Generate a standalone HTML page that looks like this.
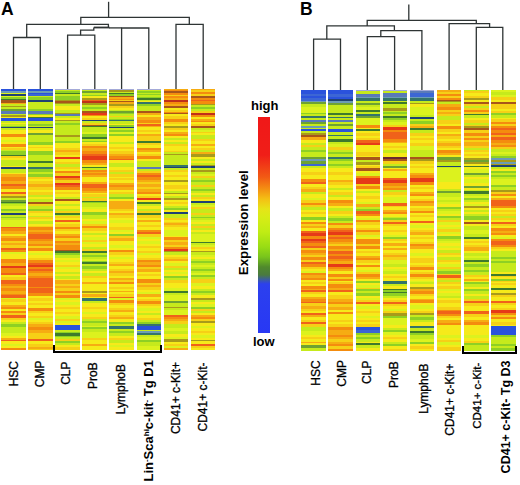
<!DOCTYPE html>
<html><head><meta charset="utf-8"><style>
html,body{margin:0;padding:0;background:#fff;width:520px;height:485px;overflow:hidden}
body{position:relative;font-family:"Liberation Sans",sans-serif;color:#000}
.hc{position:absolute;filter:blur(0.4px)}
svg{position:absolute;left:0;top:0}
.pl{position:absolute;font-weight:bold;font-size:17.5px;line-height:1}
.cb{position:absolute;left:257.8px;top:117.1px;width:12px;height:216.4px;background:linear-gradient(to bottom,#f01818 0px,#f01e18 38px,#f25a14 60px,#f49012 72px,#f4c014 82px,#e6e418 92px,#d8ec16 100px,#c0ec14 115px,#98dc14 130px,#78c41c 140px,#508a2c 150px,#4a7a40 158px,#3a5aa8 163px,#2c40ee 167px,#2838f4 216.4px)}
.ct{position:absolute;font-weight:bold;font-size:13px;line-height:1;white-space:nowrap}
.tn{font-family:"Liberation Sans",sans-serif;font-weight:normal;font-size:12px;fill:#000;stroke:#000;stroke-width:0.3px}
.tb{font-family:"Liberation Sans",sans-serif;font-weight:bold;font-size:12.5px;fill:#000}
.sp{font-size:8px}
.tb13{font-size:13px}
.tn115{font-size:11.5px}
.br{position:absolute;border:2.6px solid #000;border-top:none}
</style></head><body>
<div class="pl" style="left:1px;top:1px">A</div>
<div class="pl" style="left:300px;top:1px">B</div>
<svg width="520" height="485"><g stroke="#2e3434" stroke-width="1.3" fill="none" stroke-linecap="butt" stroke-linejoin="miter"><path d="M108.6 1.8V17.4"/><path d="M80.8 24.4V17.4H189.3V24.4"/><path d="M26.7 37.5V24.4H108.4V27.4"/><path d="M13.5 89V37.5H40.3V89"/><path d="M176 89V24.4H203.2V89"/><path d="M67.6 89V35.2H94.8V89"/><path d="M80.6 35.2V30.2H93.8V27.4"/><path d="M121.6 89V28H148.8V89"/><path d="M109 27.9H121.6"/><path d="M408.8 4.6V20.4"/><path d="M367.2 25.9V20.4H476.3V23.6"/><path d="M326.8 39.2V25.9H394.4V30.7"/><path d="M313.6 91V39.2H340.5V91"/><path d="M380.8 36.6V30.7H421.9V91"/><path d="M367.3 91V36.6H394.6V91"/><path d="M449.1 91V23.6H489.6V27.3"/><path d="M476.3 91V27.3H502.8V91"/><path d="M93.8 27.5H109.5" stroke-width="1.8"/></g></svg>
<div class="hc" style="left:1.1px;top:88.5px;width:24.7px;height:261.9px;background:linear-gradient(to bottom,#2a52dc 0.3px 2.5px,#6c9cb4 2.5px 4.2px,#dcf21e 4.2px 5.2px,#1f4272 5.2px 6.8px,#dcf21e 6.8px 7.8px,#8ed024 7.8px 9.9px,#3f7a2c 9.9px 11.4px,#a8561a 11.4px 13.5px,#f6ac12 13.5px 15.1px,#c6ea1c 15.1px 16.6px,#a89a1a 16.6px 18.2px,#c6ea1c 18.2px 20.3px,#6ea232 20.3px 21.8px,#5a7ab8 21.8px 24.9px,#c6ea1c 24.9px 26.5px,#a89a1a 26.5px 28.1px,#f6ea1a 28.1px 29.1px,#2a52dc 29.1px 32.2px,#c6ea1c 32.2px 33.8px,#f6ea1a 33.8px 35.3px,#c6ea1c 35.3px 36.9px,#8ed024 36.9px 37.9px,#1f4272 37.9px 39.5px,#c6ea1c 39.5px 41.0px,#f6ea1a 41.0px 44.7px,#f48c0e 44.7px 47.8px,#f6ea1a 47.8px 50.9px,#dcf21e 50.9px 53.2px,#f6ea1a 53.2px 54.8px,#f48c0e 54.8px 57.5px,#f6ea1a 57.5px 59.5px,#f6d016 59.5px 61.0px,#c6ea1c 61.0px 62.5px,#8ed024 62.5px 63.5px,#8ed024 63.5px 65.8px,#3f7a2c 65.8px 66.9px,#f6d016 66.9px 69.0px,#f6ea1a 69.0px 71.3px,#c6ea1c 71.3px 76.7px,#f6ea1a 76.7px 78.3px,#1f4272 78.3px 79.9px,#c6ea1c 79.9px 83.7px,#f6ea1a 83.7px 85.3px,#f6ac12 85.3px 87.6px,#f48c0e 87.6px 92.3px,#f6ac12 92.3px 94.7px,#f0621a 94.7px 97.0px,#f48c0e 97.0px 100.1px,#f6ea1a 100.1px 103.2px,#f0621a 103.2px 105.2px,#f6d016 105.2px 107.1px,#a89a1a 107.1px 109.0px,#c6ea1c 109.0px 111.0px,#6ea232 111.0px 112.5px,#3f7a2c 112.5px 113.9px,#8ed024 113.9px 114.9px,#c6ea1c 114.9px 117.2px,#dcf21e 117.2px 119.6px,#8ed024 119.6px 121.9px,#c6ea1c 121.9px 123.9px,#1f4272 123.9px 125.8px,#c6ea1c 125.8px 127.5px,#8ed024 127.5px 129.1px,#c6ea1c 129.1px 131.4px,#dcf21e 131.4px 137.6px,#f0621a 137.6px 138.7px,#f48c0e 138.7px 142.3px,#f6ac12 142.3px 144.6px,#f6ea1a 144.6px 147.0px,#f6ac12 147.0px 149.3px,#f48c0e 149.3px 151.6px,#f6d016 151.6px 154.0px,#f6ac12 154.0px 156.3px,#f6d016 156.3px 158.7px,#f0621a 158.7px 161.0px,#f48c0e 161.0px 163.0px,#dcf21e 163.0px 164.9px,#f6ea1a 164.9px 169.6px,#f48c0e 169.6px 174.2px,#f6ac12 174.2px 176.6px,#e63a18 176.6px 178.9px,#f48c0e 178.9px 183.6px,#f0621a 183.6px 185.9px,#f6ea1a 185.9px 188.2px,#f6d016 188.2px 190.6px,#f0621a 190.6px 191.5px,#f0621a 191.5px 194.6px,#f48c0e 194.6px 197.0px,#f6ac12 197.0px 199.3px,#f48c0e 199.3px 201.6px,#f6ac12 201.6px 204.7px,#f48c0e 204.7px 206.3px,#f0621a 206.3px 208.6px,#dcf21e 208.6px 210.2px,#f6d016 210.2px 213.3px,#f6ea1a 213.3px 215.6px,#f6ac12 215.6px 218.0px,#f48c0e 218.0px 219.5px,#f6ea1a 219.5px 221.9px,#f48c0e 221.9px 224.2px,#f6d016 224.2px 225.8px,#f0621a 225.8px 228.9px,#f6d016 228.9px 231.2px,#f6ea1a 231.2px 232.8px,#c6ea1c 232.8px 235.1px,#8ed024 235.1px 238.2px,#c6ea1c 238.2px 244.5px,#dcf21e 244.5px 246.8px,#f6ea1a 246.8px 249.1px,#f6ac12 249.1px 250.7px,#f0621a 250.7px 252.2px,#f6ea1a 252.2px 254.6px,#dcf21e 254.6px 256.9px,#f6ea1a 256.9px 259.3px,#f48c0e 259.3px 261.9px)"></div>
<div class="hc" style="left:28.2px;top:88.5px;width:24.7px;height:261.9px;background:linear-gradient(to bottom,#2a52dc 0.3px 2.5px,#6c9cb4 2.5px 4.2px,#2a52dc 4.2px 5.2px,#3c66d4 5.2px 6.8px,#c6ea1c 6.8px 8.3px,#8ed024 8.3px 10.9px,#1f4272 10.9px 13.0px,#c6ea1c 13.0px 20.3px,#8ed024 20.3px 22.3px,#5a7ab8 22.3px 24.9px,#8ed024 24.9px 26.5px,#f6ea1a 26.5px 28.1px,#3f7a2c 28.1px 29.1px,#2a52dc 29.1px 32.2px,#c6ea1c 32.2px 35.3px,#8ed024 35.3px 36.9px,#c6ea1c 36.9px 37.9px,#1f4272 37.9px 39.5px,#c6ea1c 39.5px 41.0px,#f6ea1a 41.0px 44.1px,#6ea232 44.1px 45.7px,#c6ea1c 45.7px 53.2px,#8ed024 53.2px 55.5px,#f6ea1a 55.5px 57.9px,#f6d016 57.9px 59.5px,#f6ea1a 59.5px 61.8px,#8ed024 61.8px 63.5px,#8ed024 63.5px 65.8px,#c6ea1c 65.8px 72.1px,#3f7a2c 72.1px 73.6px,#c6ea1c 73.6px 77.5px,#34746a 77.5px 79.9px,#8ed024 79.9px 83.0px,#c6ea1c 83.0px 85.3px,#8ed024 85.3px 87.6px,#f6d016 87.6px 90.0px,#f6ea1a 90.0px 92.3px,#f6d016 92.3px 94.7px,#f6ac12 94.7px 97.8px,#f6d016 97.8px 100.9px,#f6ea1a 100.9px 103.2px,#f6d016 103.2px 105.5px,#c6ea1c 105.5px 107.9px,#f6ea1a 107.9px 110.2px,#c6ea1c 110.2px 112.5px,#a8561a 112.5px 114.9px,#f6d016 114.9px 117.2px,#c6ea1c 117.2px 119.6px,#8ed024 119.6px 121.9px,#f6d016 121.9px 124.2px,#f6ea1a 124.2px 126.5px,#c6ea1c 126.5px 127.5px,#f6d016 127.5px 129.8px,#f6ea1a 129.8px 132.2px,#c6ea1c 132.2px 134.5px,#f6ea1a 134.5px 136.8px,#f6d016 136.8px 138.4px,#f48c0e 138.4px 140.7px,#f6ac12 140.7px 143.1px,#f48c0e 143.1px 145.4px,#f0621a 145.4px 150.1px,#f48c0e 150.1px 152.4px,#f6ac12 152.4px 154.8px,#f48c0e 154.8px 157.1px,#f6d016 157.1px 159.4px,#f48c0e 159.4px 161.8px,#f6ea1a 161.8px 164.1px,#dcf21e 164.1px 166.4px,#f6ea1a 166.4px 168.8px,#f6d016 168.8px 171.1px,#f48c0e 171.1px 173.5px,#f0621a 173.5px 175.8px,#e63a18 175.8px 177.7px,#f48c0e 177.7px 179.7px,#f0621a 179.7px 182.0px,#f48c0e 182.0px 184.4px,#f6ac12 184.4px 186.7px,#f48c0e 186.7px 189.0px,#f0621a 189.0px 191.4px,#f0621a 191.4px 191.5px,#f0621a 191.5px 197.5px,#f48c0e 197.5px 199.0px,#f0621a 199.0px 204.0px,#f48c0e 204.0px 207.1px,#f6ea1a 207.1px 209.4px,#f6d016 209.4px 211.7px,#f6ea1a 211.7px 214.1px,#f6d016 214.1px 216.4px,#f6ea1a 216.4px 218.8px,#f48c0e 218.8px 221.9px,#f6d016 221.9px 224.2px,#f6ea1a 224.2px 226.5px,#f6d016 226.5px 228.9px,#dcf21e 228.9px 231.2px,#f6ea1a 231.2px 232.8px,#f6d016 232.8px 235.1px,#f6ac12 235.1px 238.2px,#f48c0e 238.2px 241.3px,#f6ac12 241.3px 244.5px,#f6d016 244.5px 249.9px,#f0621a 249.9px 251.5px,#f6ea1a 251.5px 255.4px,#f6d016 255.4px 257.7px,#f6ac12 257.7px 260.0px,#f6d016 260.0px 261.9px)"></div>
<div class="hc" style="left:55.3px;top:88.5px;width:24.7px;height:261.9px;background:linear-gradient(to bottom,#a4aad8 0.0px 1.4px,#c6ea1c 1.4px 2.3px,#8ed024 2.3px 3.9px,#3f7a2c 3.9px 5.0px,#c6ea1c 5.0px 7.0px,#8ed024 7.0px 10.7px,#a89a1a 10.7px 12.3px,#a8561a 12.3px 13.8px,#a89a1a 13.8px 15.1px,#c6ea1c 15.1px 17.4px,#f6ea1a 17.4px 21.3px,#c6ea1c 21.3px 23.6px,#a89a1a 23.6px 25.2px,#5a7ab8 25.2px 26.8px,#c6ea1c 26.8px 29.1px,#f6ea1a 29.1px 30.7px,#a89a1a 30.7px 32.5px,#c6ea1c 32.5px 34.1px,#8ed024 34.1px 35.6px,#c6ea1c 35.6px 46.2px,#a89a1a 46.2px 48.1px,#c6ea1c 48.1px 52.5px,#8ed024 52.5px 54.0px,#f6ea1a 54.0px 58.7px,#f6d016 58.7px 61.0px,#f6ac12 61.0px 63.4px,#f6d016 63.4px 63.5px,#f6d016 63.5px 65.8px,#f6ea1a 65.8px 68.2px,#e63a18 68.2px 70.5px,#f6ea1a 70.5px 72.8px,#f6d016 72.8px 75.2px,#c6ea1c 75.2px 77.5px,#f6d016 77.5px 79.9px,#f6ea1a 79.9px 82.2px,#f48c0e 82.2px 84.5px,#f6d016 84.5px 86.9px,#e63a18 86.9px 89.2px,#f48c0e 89.2px 91.5px,#f6d016 91.5px 93.9px,#e63a18 93.9px 96.2px,#f0621a 96.2px 98.5px,#f48c0e 98.5px 100.9px,#f6ea1a 100.9px 103.2px,#f6d016 103.2px 105.5px,#f6ea1a 105.5px 107.9px,#c6ea1c 107.9px 110.2px,#a8561a 110.2px 112.5px,#f6ea1a 112.5px 114.9px,#c6ea1c 114.9px 117.2px,#f6ea1a 117.2px 119.6px,#c6ea1c 119.6px 121.9px,#f6d016 121.9px 124.2px,#3f7a2c 124.2px 126.5px,#c6ea1c 126.5px 127.5px,#f6d016 127.5px 129.1px,#f6ea1a 129.1px 131.4px,#f0621a 131.4px 133.0px,#f6ea1a 133.0px 135.3px,#f6d016 135.3px 137.6px,#f48c0e 137.6px 140.0px,#f6d016 140.0px 142.3px,#f6ea1a 142.3px 144.6px,#f6ac12 144.6px 147.0px,#f48c0e 147.0px 149.3px,#f6d016 149.3px 151.6px,#f48c0e 151.6px 154.0px,#f6ac12 154.0px 156.3px,#f48c0e 156.3px 161.0px,#a8561a 161.0px 162.5px,#3f7a2c 162.5px 164.1px,#8ed024 164.1px 166.4px,#c6ea1c 166.4px 168.8px,#f6ea1a 168.8px 171.1px,#dcf21e 171.1px 173.4px,#f6ea1a 173.4px 175.8px,#f6d016 175.8px 178.1px,#dcf21e 178.1px 180.5px,#f6ea1a 180.5px 182.8px,#c6ea1c 182.8px 185.1px,#f6ea1a 185.1px 187.5px,#c6ea1c 187.5px 189.8px,#f6ea1a 189.8px 191.5px,#f6ac12 191.5px 194.6px,#f6d016 194.6px 197.0px,#f6ac12 197.0px 199.3px,#f6d016 199.3px 201.6px,#f48c0e 201.6px 204.0px,#f6d016 204.0px 206.3px,#f48c0e 206.3px 208.6px,#dcf21e 208.6px 211.0px,#f6ea1a 211.0px 213.3px,#dcf21e 213.3px 215.6px,#f6ea1a 215.6px 218.0px,#f6d016 218.0px 220.3px,#f6ea1a 220.3px 222.7px,#f6d016 222.7px 225.0px,#f6ea1a 225.0px 227.3px,#dcf21e 227.3px 229.7px,#f6d016 229.7px 232.0px,#dcf21e 232.0px 233.6px,#f6ea1a 233.6px 235.9px,#2a52dc 235.9px 241.0px,#c6ea1c 241.0px 242.9px,#8ed024 242.9px 244.5px,#3f7a2c 244.5px 246.8px,#8ed024 246.8px 248.4px,#c6ea1c 248.4px 249.9px,#f6d016 249.9px 252.2px,#8ed024 252.2px 253.8px,#c6ea1c 253.8px 256.1px,#f6ea1a 256.1px 258.5px,#f6d016 258.5px 261.9px)"></div>
<div class="hc" style="left:82.3px;top:88.5px;width:24.7px;height:261.9px;background:linear-gradient(to bottom,#a4aad8 0.0px 1.4px,#c6ea1c 1.4px 2.3px,#6ea232 2.3px 3.9px,#c6ea1c 3.9px 5.7px,#8ed024 5.7px 7.3px,#f6ea1a 7.3px 9.2px,#a89a1a 9.2px 10.7px,#f0621a 10.7px 12.0px,#c0301a 12.0px 14.3px,#a89a1a 14.3px 15.9px,#c6ea1c 15.9px 17.9px,#8ed024 17.9px 20.1px,#c6ea1c 20.1px 22.1px,#a8561a 22.1px 23.6px,#e63a18 23.6px 25.7px,#f48c0e 25.7px 27.2px,#f6ea1a 27.2px 29.1px,#f6d016 29.1px 30.7px,#1f4272 30.7px 32.2px,#c6ea1c 32.2px 34.1px,#f6d016 34.1px 35.6px,#a8561a 35.6px 36.9px,#3f7a2c 36.9px 38.5px,#c6ea1c 38.5px 43.1px,#dcf21e 43.1px 45.5px,#8ed024 45.5px 47.8px,#3f7a2c 47.8px 49.7px,#c6ea1c 49.7px 51.7px,#8ed024 51.7px 53.2px,#f6ea1a 53.2px 55.5px,#f6d016 55.5px 57.5px,#f48c0e 57.5px 59.5px,#f6ac12 59.5px 61.8px,#f48c0e 61.8px 63.5px,#f48c0e 63.5px 65.1px,#f0621a 65.1px 67.4px,#e63a18 67.4px 71.3px,#f48c0e 71.3px 73.6px,#f6ac12 73.6px 76.0px,#f6ea1a 76.0px 77.5px,#3f7a2c 77.5px 79.1px,#c6ea1c 79.1px 80.6px,#f48c0e 80.6px 83.0px,#f6ac12 83.0px 84.5px,#f48c0e 84.5px 86.1px,#f6ac12 86.1px 88.4px,#f6ea1a 88.4px 93.1px,#f6ac12 93.1px 94.7px,#f0621a 94.7px 99.3px,#f48c0e 99.3px 101.7px,#f6ac12 101.7px 104.0px,#f6ea1a 104.0px 105.5px,#f6d016 105.5px 107.9px,#c6ea1c 107.9px 109.5px,#f6d016 109.5px 111.8px,#3f7a2c 111.8px 113.3px,#8ed024 113.3px 114.5px,#c6ea1c 114.5px 118.0px,#dcf21e 118.0px 120.4px,#f6ea1a 120.4px 122.7px,#8ed024 122.7px 125.8px,#c6ea1c 125.8px 127.4px,#f6d016 127.4px 127.5px,#c6ea1c 127.5px 129.8px,#f6ea1a 129.8px 132.2px,#dcf21e 132.2px 135.3px,#f6d016 135.3px 136.8px,#f48c0e 136.8px 139.2px,#f6d016 139.2px 141.5px,#f6ea1a 141.5px 143.9px,#c6ea1c 143.9px 146.2px,#f6ea1a 146.2px 148.5px,#dcf21e 148.5px 150.9px,#f6d016 150.9px 153.2px,#dcf21e 153.2px 155.5px,#f6ea1a 155.5px 157.9px,#c6ea1c 157.9px 160.2px,#f6d016 160.2px 161.8px,#3f7a2c 161.8px 163.6px,#c6ea1c 163.6px 165.7px,#8ed024 165.7px 168.0px,#c6ea1c 168.0px 170.3px,#dcf21e 170.3px 171.9px,#8ed024 171.9px 173.4px,#3f7a2c 173.4px 175.0px,#c6ea1c 175.0px 177.3px,#8ed024 177.3px 179.7px,#c6ea1c 179.7px 182.0px,#f6ea1a 182.0px 184.4px,#c6ea1c 184.4px 186.7px,#f6d016 186.7px 189.0px,#f6ea1a 189.0px 191.4px,#f6d016 191.4px 191.5px,#f6ea1a 191.5px 192.7px,#f6ac12 192.7px 194.9px,#f6ea1a 194.9px 201.6px,#a89a1a 201.6px 204.0px,#f6ea1a 204.0px 205.5px,#f6ac12 205.5px 207.9px,#f6ea1a 207.9px 209.4px,#34746a 209.4px 211.7px,#c6ea1c 211.7px 214.1px,#f6ea1a 214.1px 218.0px,#f6d016 218.0px 220.3px,#f6ea1a 220.3px 222.7px,#dcf21e 222.7px 225.0px,#f6ea1a 225.0px 228.1px,#f6d016 228.1px 230.4px,#c6ea1c 230.4px 232.0px,#8ed024 232.0px 234.3px,#c6ea1c 234.3px 236.7px,#dcf21e 236.7px 238.2px,#8ed024 238.2px 239.8px,#c6ea1c 239.8px 242.9px,#dcf21e 242.9px 249.1px,#f6d016 249.1px 251.5px,#f6ea1a 251.5px 254.6px,#f6ac12 254.6px 256.9px,#f6ea1a 256.9px 261.9px)"></div>
<div class="hc" style="left:109.4px;top:88.5px;width:24.7px;height:261.9px;background:linear-gradient(to bottom,#a4aad8 0.0px 1.0px,#dcf21e 1.0px 1.5px,#a89a1a 1.5px 3.1px,#c6ea1c 3.1px 4.2px,#3f7a2c 4.2px 5.2px,#8ed024 5.2px 6.8px,#a8561a 6.8px 8.3px,#f6ac12 8.3px 9.9px,#f48c0e 9.9px 10.9px,#f6d016 10.9px 12.0px,#a8561a 12.0px 13.5px,#f6ac12 13.5px 15.1px,#a89a1a 15.1px 17.2px,#f6d016 17.2px 18.7px,#f6ea1a 18.7px 20.8px,#c6ea1c 20.8px 22.3px,#6ea232 22.3px 23.9px,#8ed024 23.9px 25.5px,#c6ea1c 25.5px 27.0px,#f6d016 27.0px 28.5px,#c6ea1c 28.5px 30.1px,#8ed024 30.1px 31.2px,#34746a 31.2px 32.5px,#c6ea1c 32.5px 34.8px,#f6ea1a 34.8px 36.4px,#8ed024 36.4px 37.9px,#1f4272 37.9px 39.5px,#c6ea1c 39.5px 41.0px,#8ed024 41.0px 43.1px,#dcf21e 43.1px 45.2px,#8ed024 45.2px 47.3px,#f6ea1a 47.3px 53.2px,#c6ea1c 53.2px 55.5px,#f6ea1a 55.5px 57.9px,#f6d016 57.9px 60.2px,#f6ea1a 60.2px 62.5px,#f6d016 62.5px 63.5px,#f6d016 63.5px 65.4px,#f6ac12 65.4px 67.4px,#f48c0e 67.4px 69.7px,#f0621a 69.7px 71.3px,#f6ea1a 71.3px 73.6px,#c6ea1c 73.6px 78.3px,#f6ea1a 78.3px 80.6px,#f6d016 80.6px 83.0px,#c6ea1c 83.0px 85.3px,#f6d016 85.3px 87.6px,#f6ea1a 87.6px 89.2px,#f6d016 89.2px 91.5px,#f6ea1a 91.5px 93.9px,#f6ac12 93.9px 96.2px,#f48c0e 96.2px 98.5px,#f6ac12 98.5px 100.9px,#f6ea1a 100.9px 103.2px,#f6d016 103.2px 105.5px,#c6ea1c 105.5px 107.9px,#8ed024 107.9px 110.2px,#f6ea1a 110.2px 112.5px,#f6ac12 112.5px 119.6px,#f6d016 119.6px 121.9px,#f6ea1a 121.9px 124.2px,#f6ac12 124.2px 126.5px,#f6d016 126.5px 127.5px,#f6d016 127.5px 129.1px,#f6ea1a 129.1px 131.4px,#dcf21e 131.4px 133.7px,#f6ea1a 133.7px 138.4px,#f6d016 138.4px 140.7px,#dcf21e 140.7px 143.1px,#f6ea1a 143.1px 145.4px,#8ed024 145.4px 147.0px,#f6d016 147.0px 149.3px,#f6ac12 149.3px 151.6px,#f6ea1a 151.6px 156.3px,#dcf21e 156.3px 158.7px,#f6ea1a 158.7px 161.0px,#f48c0e 161.0px 163.3px,#f6d016 163.3px 165.7px,#f6ea1a 165.7px 168.0px,#dcf21e 168.0px 170.3px,#f6ea1a 170.3px 172.7px,#f6d016 172.7px 175.0px,#f6ac12 175.0px 177.3px,#f6ea1a 177.3px 179.7px,#f6d016 179.7px 182.0px,#f6ac12 182.0px 184.4px,#f6d016 184.4px 186.7px,#f6ea1a 186.7px 189.0px,#f6ac12 189.0px 191.4px,#f6ea1a 191.4px 191.5px,#f6d016 191.5px 193.1px,#f48c0e 193.1px 194.6px,#f6ea1a 194.6px 197.7px,#f6d016 197.7px 200.1px,#f6ea1a 200.1px 201.6px,#f6ac12 201.6px 203.2px,#f6ea1a 203.2px 205.5px,#f6d016 205.5px 207.9px,#f0621a 207.9px 209.4px,#dcf21e 209.4px 211.0px,#f48c0e 211.0px 214.1px,#f6d016 214.1px 216.4px,#f6ea1a 216.4px 218.8px,#f6d016 218.8px 221.1px,#f6ac12 221.1px 223.4px,#f6ea1a 223.4px 225.8px,#f6d016 225.8px 228.1px,#f6ac12 228.1px 230.4px,#f6ea1a 230.4px 232.8px,#8ed024 232.8px 235.1px,#c6ea1c 235.1px 237.5px,#34746a 237.5px 239.8px,#c6ea1c 239.8px 242.1px,#8ed024 242.1px 244.5px,#c6ea1c 244.5px 246.8px,#f6ea1a 246.8px 249.1px,#f6d016 249.1px 251.5px,#c6ea1c 251.5px 253.8px,#f6ea1a 253.8px 256.1px,#dcf21e 256.1px 258.5px,#f6ea1a 258.5px 261.9px)"></div>
<div class="hc" style="left:136.5px;top:88.5px;width:24.7px;height:261.9px;background:linear-gradient(to bottom,#a4aad8 0.0px 1.4px,#c6ea1c 1.4px 2.1px,#8ed024 2.1px 3.7px,#c6ea1c 3.7px 5.2px,#8ed024 5.2px 6.2px,#c6ea1c 6.2px 7.8px,#8ed024 7.8px 9.4px,#3f7a2c 9.4px 10.9px,#c6ea1c 10.9px 12.5px,#f6ea1a 12.5px 13.5px,#34746a 13.5px 15.1px,#8ed024 15.1px 17.2px,#c6ea1c 17.2px 22.3px,#a8561a 22.3px 24.5px,#f6ac12 24.5px 26.5px,#f6ea1a 26.5px 28.5px,#f6ac12 28.5px 30.7px,#f48c0e 30.7px 33.8px,#f6d016 33.8px 35.3px,#f0621a 35.3px 36.9px,#f6ac12 36.9px 38.5px,#f6ea1a 38.5px 41.0px,#f6d016 41.0px 43.1px,#f6ea1a 43.1px 45.2px,#f6ac12 45.2px 47.3px,#f6d016 47.3px 50.1px,#f6d016 50.1px 52.5px,#3f7a2c 52.5px 54.0px,#f6d016 54.0px 56.4px,#f6ea1a 56.4px 58.7px,#f48c0e 58.7px 61.0px,#f6ac12 61.0px 63.4px,#f6d016 63.4px 63.5px,#f6ea1a 63.5px 65.1px,#f6d016 65.1px 67.4px,#f48c0e 67.4px 69.7px,#f6ea1a 69.7px 72.1px,#c6ea1c 72.1px 78.3px,#5a7ab8 78.3px 79.9px,#c6ea1c 79.9px 82.2px,#f6d016 82.2px 84.5px,#f48c0e 84.5px 86.1px,#f0621a 86.1px 88.1px,#f48c0e 88.1px 90.8px,#f6ac12 90.8px 93.1px,#f6d016 93.1px 95.4px,#f6ac12 95.4px 97.8px,#f6d016 97.8px 100.1px,#f6ac12 100.1px 103.2px,#f48c0e 103.2px 104.8px,#f6ea1a 104.8px 107.1px,#f6d016 107.1px 108.7px,#e63a18 108.7px 111.0px,#f6ea1a 111.0px 113.3px,#3f7a2c 113.3px 114.9px,#c6ea1c 114.9px 117.2px,#f6ea1a 117.2px 119.6px,#c6ea1c 119.6px 121.9px,#f6d016 121.9px 123.9px,#3f7a2c 123.9px 125.8px,#f6d016 125.8px 127.5px,#f6d016 127.5px 129.4px,#f6ea1a 129.4px 131.4px,#f6ac12 131.4px 133.4px,#f6ea1a 133.4px 136.1px,#f6d016 136.1px 138.4px,#f6ea1a 138.4px 140.7px,#f48c0e 140.7px 143.1px,#f0621a 143.1px 145.4px,#f6d016 145.4px 147.7px,#dcf21e 147.7px 150.1px,#f6ea1a 150.1px 152.4px,#dcf21e 152.4px 154.8px,#f6ea1a 154.8px 157.1px,#f6d016 157.1px 159.4px,#f6ea1a 159.4px 161.8px,#f6d016 161.8px 164.1px,#dcf21e 164.1px 166.4px,#f6ea1a 166.4px 168.8px,#f6d016 168.8px 171.1px,#f48c0e 171.1px 173.4px,#f6ac12 173.4px 175.8px,#f48c0e 175.8px 178.1px,#f6d016 178.1px 180.5px,#f6ac12 180.5px 182.8px,#f6ea1a 182.8px 185.1px,#f6d016 185.1px 187.5px,#f6ea1a 187.5px 189.8px,#f48c0e 189.8px 191.5px,#f48c0e 191.5px 193.8px,#f6d016 193.8px 196.2px,#f6ac12 196.2px 198.5px,#f6d016 198.5px 200.8px,#f6ea1a 200.8px 203.2px,#dcf21e 203.2px 205.5px,#f6ac12 205.5px 207.9px,#f6ea1a 207.9px 210.2px,#f6d016 210.2px 212.5px,#f48c0e 212.5px 214.9px,#f6d016 214.9px 217.2px,#f6ea1a 217.2px 219.5px,#dcf21e 219.5px 221.9px,#f6ea1a 221.9px 224.2px,#c6ea1c 224.2px 226.5px,#f6ea1a 226.5px 228.9px,#f6d016 228.9px 231.2px,#c6ea1c 231.2px 233.2px,#8ed024 233.2px 235.1px,#34746a 235.1px 236.7px,#2a52dc 236.7px 240.6px,#c6ea1c 240.6px 242.1px,#6c9cb4 242.1px 243.7px,#34746a 243.7px 246.0px,#c6ea1c 246.0px 248.4px,#dcf21e 248.4px 250.7px,#8ed024 250.7px 253.0px,#c6ea1c 253.0px 256.9px,#dcf21e 256.9px 261.9px)"></div>
<div class="hc" style="left:163.6px;top:88.5px;width:24.7px;height:261.9px;background:linear-gradient(to bottom,#f6ac12 0.3px 0.9px,#f48c0e 0.9px 2.2px,#a8561a 2.2px 3.9px,#f48c0e 3.9px 5.6px,#f6d016 5.6px 7.0px,#f48c0e 7.0px 9.0px,#f6ac12 9.0px 11.1px,#c0301a 11.1px 13.1px,#f48c0e 13.1px 15.1px,#f6ac12 15.1px 17.2px,#a8561a 17.2px 18.5px,#f6ea1a 18.5px 20.6px,#f6d016 20.6px 22.6px,#f48c0e 22.6px 24.0px,#a8561a 24.0px 25.4px,#f6ea1a 25.4px 27.4px,#f6d016 27.4px 29.5px,#f48c0e 29.5px 33.5px,#f6d016 33.5px 35.5px,#f6ea1a 35.5px 37.5px,#a89a1a 37.5px 39.2px,#f6d016 39.2px 41.0px,#f6ea1a 41.0px 43.0px,#f6ac12 43.0px 45.1px,#f48c0e 45.1px 47.1px,#f6ea1a 47.1px 49.2px,#c6ea1c 49.2px 51.2px,#f6ea1a 51.2px 53.2px,#c6ea1c 53.2px 55.2px,#f6d016 55.2px 57.3px,#f6ea1a 57.3px 62.1px,#f6d016 62.1px 63.5px,#c6ea1c 63.5px 64.9px,#a89a1a 64.9px 66.5px,#c6ea1c 66.5px 76.4px,#34746a 76.4px 77.5px,#1f4272 77.5px 79.1px,#c6ea1c 79.1px 81.2px,#f6d016 81.2px 83.2px,#f6ea1a 83.2px 85.9px,#f6d016 85.9px 88.0px,#f6ea1a 88.0px 91.4px,#a89a1a 91.4px 93.4px,#f6ea1a 93.4px 95.5px,#f6d016 95.5px 99.5px,#f6ea1a 99.5px 101.6px,#c6ea1c 101.6px 103.6px,#a89a1a 103.6px 105.0px,#f6ea1a 105.0px 107.0px,#c6ea1c 107.0px 109.1px,#a89a1a 109.1px 110.5px,#f6ea1a 110.5px 112.5px,#f6d016 112.5px 114.6px,#f6ea1a 114.6px 116.6px,#c6ea1c 116.6px 118.6px,#8ed024 118.6px 120.6px,#f6ea1a 120.6px 123.4px,#1f4272 123.4px 125.0px,#c6ea1c 125.0px 127.5px,#c6ea1c 127.5px 128.9px,#f6d016 128.9px 130.5px,#f6ea1a 130.5px 132.7px,#f6d016 132.7px 134.3px,#f6ac12 134.3px 136.3px,#f6d016 136.3px 138.4px,#f6ea1a 138.4px 141.1px,#dcf21e 141.1px 146.5px,#f6ea1a 146.5px 147.9px,#f48c0e 147.9px 151.3px,#f6d016 151.3px 153.4px,#f6ac12 153.4px 156.1px,#f6d016 156.1px 158.1px,#f48c0e 158.1px 159.5px,#e63a18 159.5px 161.5px,#a89a1a 161.5px 163.1px,#c6ea1c 163.1px 165.6px,#f6ea1a 165.6px 168.3px,#f6d016 168.3px 170.4px,#f6ac12 170.4px 172.4px,#f6ea1a 172.4px 174.4px,#dcf21e 174.4px 176.5px,#f6d016 176.5px 178.5px,#c6ea1c 178.5px 181.2px,#f6ea1a 181.2px 183.3px,#dcf21e 183.3px 185.3px,#f6ea1a 185.3px 187.0px,#8ed024 187.0px 188.7px,#c6ea1c 188.7px 190.8px,#f6d016 190.8px 191.5px,#f6d016 191.5px 193.7px,#f6ea1a 193.7px 198.9px,#dcf21e 198.9px 201.9px,#3f7a2c 201.9px 204.1px,#c6ea1c 204.1px 206.3px,#dcf21e 206.3px 212.3px,#6ea232 212.3px 213.8px,#c6ea1c 213.8px 217.5px,#a89a1a 217.5px 218.9px,#c6ea1c 218.9px 221.2px,#dcf21e 221.2px 225.6px,#f0621a 225.6px 227.9px,#f48c0e 227.9px 230.1px,#f6ac12 230.1px 232.3px,#f6d016 232.3px 234.5px,#c6ea1c 234.5px 239.0px,#dcf21e 239.0px 241.9px,#c6ea1c 241.9px 244.9px,#f6ea1a 244.9px 247.9px,#dcf21e 247.9px 250.1px,#a89a1a 250.1px 252.5px,#f6ea1a 252.5px 254.6px,#f6d016 254.6px 256.8px,#dcf21e 256.8px 259.0px,#f6ac12 259.0px 261.9px)"></div>
<div class="hc" style="left:190.7px;top:88.5px;width:24.7px;height:261.9px;background:linear-gradient(to bottom,#f6ac12 0.3px 0.9px,#f6d016 0.9px 2.9px,#f48c0e 2.9px 4.9px,#f6d016 4.9px 7.0px,#a8561a 7.0px 9.0px,#f48c0e 9.0px 10.7px,#f0621a 10.7px 12.4px,#f48c0e 12.4px 14.5px,#a89a1a 14.5px 15.8px,#c6ea1c 15.8px 17.9px,#8ed024 17.9px 19.9px,#c6ea1c 19.9px 21.9px,#f6d016 21.9px 23.7px,#c0301a 23.7px 26.0px,#f48c0e 26.0px 28.1px,#f6ea1a 28.1px 29.5px,#f6ac12 29.5px 31.5px,#f48c0e 31.5px 33.5px,#f6ea1a 33.5px 35.5px,#f6d016 35.5px 37.3px,#a8561a 37.3px 39.0px,#c6ea1c 39.0px 41.0px,#dcf21e 41.0px 42.8px,#f6d016 42.8px 44.4px,#f6ea1a 44.4px 46.4px,#c6ea1c 46.4px 50.5px,#f6d016 50.5px 52.5px,#f6ea1a 52.5px 54.6px,#f6ac12 54.6px 56.6px,#f6ea1a 56.6px 58.7px,#f6d016 58.7px 60.7px,#c6ea1c 60.7px 62.8px,#f6ea1a 62.8px 63.5px,#f6ac12 63.5px 65.5px,#a89a1a 65.5px 67.6px,#f6ea1a 67.6px 69.6px,#c6ea1c 69.6px 71.7px,#f6ea1a 71.7px 73.7px,#c6ea1c 73.7px 75.7px,#a89a1a 75.7px 77.1px,#1f4272 77.1px 79.1px,#c6ea1c 79.1px 81.2px,#a89a1a 81.2px 83.2px,#c6ea1c 83.2px 85.3px,#dcf21e 85.3px 87.3px,#f6d016 87.3px 89.4px,#c6ea1c 89.4px 91.4px,#8ed024 91.4px 93.4px,#c6ea1c 93.4px 95.5px,#f6d016 95.5px 97.5px,#c6ea1c 97.5px 99.5px,#8ed024 99.5px 101.6px,#c6ea1c 101.6px 103.6px,#f6ea1a 103.6px 105.7px,#c6ea1c 105.7px 107.7px,#f6d016 107.7px 109.8px,#f6ea1a 109.8px 111.8px,#1f4272 111.8px 113.8px,#c6ea1c 113.8px 115.9px,#dcf21e 115.9px 117.9px,#f6d016 117.9px 120.0px,#c6ea1c 120.0px 124.0px,#f6d016 124.0px 126.1px,#c6ea1c 126.1px 127.5px,#8ed024 127.5px 129.1px,#c6ea1c 129.1px 130.9px,#dcf21e 130.9px 132.9px,#f6ea1a 132.9px 135.0px,#c6ea1c 135.0px 137.0px,#f6d016 137.0px 139.1px,#c6ea1c 139.1px 141.1px,#f6ea1a 141.1px 143.1px,#c6ea1c 143.1px 145.2px,#dcf21e 145.2px 152.7px,#3f7a2c 152.7px 154.0px,#c6ea1c 154.0px 156.1px,#dcf21e 156.1px 158.1px,#f6d016 158.1px 160.2px,#f6ea1a 160.2px 161.5px,#a89a1a 161.5px 162.9px,#c6ea1c 162.9px 165.6px,#dcf21e 165.6px 167.6px,#f6ea1a 167.6px 169.7px,#c6ea1c 169.7px 171.7px,#8ed024 171.7px 173.8px,#c6ea1c 173.8px 175.8px,#dcf21e 175.8px 177.8px,#c6ea1c 177.8px 179.9px,#8ed024 179.9px 181.9px,#c6ea1c 181.9px 184.0px,#dcf21e 184.0px 186.0px,#8ed024 186.0px 188.0px,#c6ea1c 188.0px 190.1px,#f6d016 190.1px 191.5px,#f6d016 191.5px 193.7px,#dcf21e 193.7px 196.7px,#f6ea1a 196.7px 199.7px,#c6ea1c 199.7px 201.9px,#8ed024 201.9px 204.1px,#c6ea1c 204.1px 206.3px,#f6ea1a 206.3px 208.6px,#a89a1a 208.6px 210.5px,#c6ea1c 210.5px 213.0px,#f6ea1a 213.0px 215.2px,#dcf21e 215.2px 217.5px,#8ed024 217.5px 219.7px,#f6d016 219.7px 221.9px,#c6ea1c 221.9px 224.1px,#f6ea1a 224.1px 226.4px,#f6ac12 226.4px 227.9px,#f48c0e 227.9px 230.1px,#f6d016 230.1px 232.3px,#a89a1a 232.3px 233.5px,#f6ea1a 233.5px 236.8px,#dcf21e 236.8px 239.0px,#f6ea1a 239.0px 241.9px,#f6d016 241.9px 244.2px,#f6ea1a 244.2px 246.4px,#dcf21e 246.4px 248.6px,#f6ea1a 248.6px 250.8px,#a89a1a 250.8px 252.3px,#f6ea1a 252.3px 254.6px,#f0621a 254.6px 256.8px,#f6d016 256.8px 259.0px,#f6ea1a 259.0px 261.9px)"></div>
<div class="hc" style="left:301.2px;top:90.4px;width:24.6px;height:260.8px;background:linear-gradient(to bottom,#2a52dc 0.0px 3.5px,#3c66d4 3.5px 5.8px,#2a52dc 5.8px 8.2px,#3c66d4 8.2px 10.5px,#6c9cb4 10.5px 12.1px,#6ea232 12.1px 14.4px,#c6ea1c 14.4px 16.7px,#dcf21e 16.7px 23.0px,#8ed024 23.0px 24.5px,#c6ea1c 24.5px 26.1px,#34746a 26.1px 27.6px,#c6ea1c 27.6px 30.0px,#5a7ab8 30.0px 32.3px,#6ea232 32.3px 34.2px,#c6ea1c 34.2px 35.7px,#6c9cb4 35.7px 37.8px,#c6ea1c 37.8px 39.3px,#2a52dc 39.3px 41.3px,#c6ea1c 41.3px 43.2px,#a89a1a 43.2px 45.1px,#a8561a 45.1px 46.6px,#f6ac12 46.6px 50.2px,#f6ea1a 50.2px 52.6px,#c6ea1c 52.6px 54.9px,#f6d016 54.9px 57.2px,#c6ea1c 57.2px 59.6px,#8ed024 59.6px 61.9px,#c6ea1c 61.9px 63.6px,#c6ea1c 63.6px 66.7px,#6ea232 66.7px 69.1px,#6c9cb4 69.1px 71.4px,#6ea232 71.4px 74.2px,#3c66d4 74.2px 76.4px,#c6ea1c 76.4px 77.6px,#f6ea1a 77.6px 82.3px,#f6d016 82.3px 84.6px,#f6ea1a 84.6px 89.3px,#f48c0e 89.3px 91.6px,#f0621a 91.6px 94.0px,#f6ea1a 94.0px 97.1px,#f6d016 97.1px 99.4px,#f6ac12 99.4px 101.8px,#c6ea1c 101.8px 104.1px,#f6ea1a 104.1px 108.0px,#dcf21e 108.0px 110.3px,#f6d016 110.3px 112.7px,#f48c0e 112.7px 115.0px,#f6d016 115.0px 117.3px,#c6ea1c 117.3px 119.7px,#f6ea1a 119.7px 122.0px,#f6d016 122.0px 124.3px,#f6ea1a 124.3px 126.7px,#8ed024 126.7px 127.6px,#8ed024 127.6px 129.9px,#f6ea1a 129.9px 131.5px,#f48c0e 131.5px 133.8px,#f6d016 133.8px 136.2px,#f6ac12 136.2px 138.5px,#f6ea1a 138.5px 140.8px,#f0621a 140.8px 143.2px,#e63a18 143.2px 146.3px,#f48c0e 146.3px 148.6px,#e63a18 148.6px 151.1px,#f0621a 151.1px 153.3px,#f48c0e 153.3px 155.6px,#f0621a 155.6px 158.0px,#f6d016 158.0px 160.3px,#f48c0e 160.3px 162.6px,#f6ac12 162.6px 165.0px,#f6d016 165.0px 167.3px,#f48c0e 167.3px 169.7px,#f6d016 169.7px 172.0px,#f0621a 172.0px 174.3px,#f48c0e 174.3px 176.7px,#f6d016 176.7px 179.0px,#f6ea1a 179.0px 181.3px,#dcf21e 181.3px 182.9px,#f48c0e 182.9px 185.2px,#f6ac12 185.2px 187.6px,#f48c0e 187.6px 189.9px,#f6ea1a 189.9px 191.6px,#f6d016 191.6px 193.9px,#f6ea1a 193.9px 196.3px,#f48c0e 196.3px 198.6px,#f6ac12 198.6px 200.2px,#f0621a 200.2px 201.7px,#f6d016 201.7px 204.1px,#f6ea1a 204.1px 207.2px,#f6ac12 207.2px 209.5px,#f48c0e 209.5px 211.8px,#f0621a 211.8px 213.4px,#f6d016 213.4px 216.5px,#f6ac12 216.5px 218.9px,#f6d016 218.9px 221.2px,#f6ea1a 221.2px 223.5px,#f0621a 223.5px 225.1px,#f6ac12 225.1px 227.4px,#f6ea1a 227.4px 230.5px,#f6d016 230.5px 232.4px,#f0621a 232.4px 234.4px,#f6d016 234.4px 236.8px,#c6ea1c 236.8px 240.6px,#dcf21e 240.6px 244.6px,#f6ea1a 244.6px 246.9px,#f6d016 246.9px 249.2px,#f6ea1a 249.2px 251.6px,#f6ac12 251.6px 253.1px,#f6ea1a 253.1px 255.5px,#6ea232 255.5px 257.8px,#c6ea1c 257.8px 260.8px)"></div>
<div class="hc" style="left:328.3px;top:90.4px;width:24.6px;height:260.8px;background:linear-gradient(to bottom,#2a52dc 0.0px 4.3px,#3c66d4 4.3px 6.6px,#2a52dc 6.6px 8.9px,#1f4272 8.9px 10.8px,#6c9cb4 10.8px 12.8px,#6ea232 12.8px 15.2px,#c6ea1c 15.2px 23.0px,#3f7a2c 23.0px 25.3px,#c6ea1c 25.3px 26.9px,#34746a 26.9px 28.4px,#c6ea1c 28.4px 30.0px,#5a7ab8 30.0px 32.3px,#c6ea1c 32.3px 33.9px,#6ea232 33.9px 36.2px,#c6ea1c 36.2px 39.3px,#2a52dc 39.3px 41.7px,#c6ea1c 41.7px 44.8px,#34746a 44.8px 46.3px,#c6ea1c 46.3px 49.4px,#3f7a2c 49.4px 51.8px,#c6ea1c 51.8px 54.1px,#dcf21e 54.1px 57.2px,#f6d016 57.2px 59.6px,#c6ea1c 59.6px 61.9px,#8ed024 61.9px 63.6px,#c6ea1c 63.6px 66.7px,#34746a 66.7px 69.1px,#8ed024 69.1px 71.4px,#c6ea1c 71.4px 73.7px,#8ed024 73.7px 76.1px,#c6ea1c 76.1px 78.4px,#f6ea1a 78.4px 82.3px,#f6d016 82.3px 84.6px,#f6ea1a 84.6px 90.1px,#f6ac12 90.1px 92.4px,#f6d016 92.4px 94.8px,#f6ea1a 94.8px 97.9px,#c6ea1c 97.9px 100.2px,#f6ea1a 100.2px 102.5px,#f6d016 102.5px 104.9px,#c6ea1c 104.9px 107.2px,#f6ea1a 107.2px 110.3px,#f48c0e 110.3px 113.4px,#f6ac12 113.4px 115.8px,#f6ea1a 115.8px 118.1px,#c6ea1c 118.1px 121.2px,#f6d016 121.2px 123.6px,#f6ea1a 123.6px 125.9px,#c6ea1c 125.9px 127.6px,#8ed024 127.6px 130.7px,#c6ea1c 130.7px 133.1px,#f48c0e 133.1px 135.4px,#f6d016 135.4px 137.7px,#f48c0e 137.7px 140.1px,#f0621a 140.1px 141.6px,#e63a18 141.6px 144.7px,#f48c0e 144.7px 147.1px,#f0621a 147.1px 149.4px,#f48c0e 149.4px 151.7px,#f6ac12 151.7px 154.1px,#f6d016 154.1px 156.4px,#f48c0e 156.4px 158.8px,#f6ac12 158.8px 161.1px,#f0621a 161.1px 164.2px,#f48c0e 164.2px 166.5px,#f0621a 166.5px 168.9px,#f48c0e 168.9px 171.2px,#f6ac12 171.2px 174.3px,#e63a18 174.3px 176.7px,#f48c0e 176.7px 179.0px,#f6ac12 179.0px 181.3px,#f6ea1a 181.3px 183.7px,#f48c0e 183.7px 186.8px,#f6d016 186.8px 189.1px,#f48c0e 189.1px 191.5px,#f6ea1a 191.5px 191.6px,#f6d016 191.6px 193.9px,#f48c0e 193.9px 197.8px,#f6ac12 197.8px 200.2px,#f0621a 200.2px 201.7px,#f6ea1a 201.7px 204.6px,#f6d016 204.6px 207.2px,#f6d016 207.2px 209.5px,#f6ac12 209.5px 211.8px,#f48c0e 211.8px 214.2px,#f6d016 214.2px 217.3px,#f6ac12 217.3px 219.6px,#f6ea1a 219.6px 222.0px,#f48c0e 222.0px 224.3px,#f6ea1a 224.3px 229.8px,#f6d016 229.8px 232.1px,#f6ea1a 232.1px 234.4px,#f6d016 234.4px 236.8px,#f48c0e 236.8px 239.9px,#f6ac12 239.9px 244.6px,#f48c0e 244.6px 246.9px,#f6ac12 246.9px 249.2px,#f6d016 249.2px 251.6px,#f6ac12 251.6px 253.9px,#f48c0e 253.9px 256.2px,#f6d016 256.2px 258.6px,#f48c0e 258.6px 260.8px)"></div>
<div class="hc" style="left:355.5px;top:90.4px;width:24.6px;height:260.8px;background:linear-gradient(to bottom,#a4aad8 0.0px 1.2px,#c6ea1c 1.2px 3.5px,#5a7ab8 3.5px 6.6px,#6c9cb4 6.6px 8.2px,#34746a 8.2px 10.5px,#c6ea1c 10.5px 12.8px,#6ea232 12.8px 15.2px,#c6ea1c 15.2px 17.5px,#dcf21e 17.5px 19.8px,#3f7a2c 19.8px 22.2px,#c6ea1c 22.2px 24.5px,#34746a 24.5px 26.1px,#6ea232 26.1px 28.4px,#dcf21e 28.4px 35.4px,#f48c0e 35.4px 37.8px,#f6ea1a 37.8px 39.3px,#3f7a2c 39.3px 40.9px,#f6ea1a 40.9px 43.2px,#f6d016 43.2px 45.6px,#f6ea1a 45.6px 47.9px,#f6d016 47.9px 50.2px,#f0621a 50.2px 52.6px,#e63a18 52.6px 54.9px,#f6ea1a 54.9px 61.9px,#f6d016 61.9px 63.6px,#f6d016 63.6px 65.9px,#f6ea1a 65.9px 67.5px,#a8561a 67.5px 70.1px,#c6ea1c 70.1px 72.2px,#a89a1a 72.2px 74.5px,#f6ea1a 74.5px 76.1px,#f6d016 76.1px 78.4px,#a8561a 78.4px 80.7px,#f6ea1a 80.7px 83.1px,#dcf21e 83.1px 86.2px,#f48c0e 86.2px 88.5px,#e63a18 88.5px 94.0px,#f6d016 94.0px 96.3px,#f48c0e 96.3px 98.6px,#f6ea1a 98.6px 101.0px,#c6ea1c 101.0px 103.3px,#f6ea1a 103.3px 106.4px,#f6d016 106.4px 108.8px,#f6ea1a 108.8px 111.9px,#dcf21e 111.9px 114.2px,#f6ac12 114.2px 116.6px,#c6ea1c 116.6px 118.9px,#8ed024 118.9px 121.2px,#f0621a 121.2px 123.6px,#f48c0e 123.6px 125.9px,#f6ea1a 125.9px 127.6px,#dcf21e 127.6px 129.9px,#f48c0e 129.9px 132.3px,#f6d016 132.3px 135.4px,#f6ea1a 135.4px 137.7px,#f6d016 137.7px 140.1px,#f48c0e 140.1px 142.4px,#f6d016 142.4px 144.7px,#dcf21e 144.7px 147.1px,#f6ea1a 147.1px 149.4px,#f48c0e 149.4px 154.1px,#f6d016 154.1px 156.4px,#f48c0e 156.4px 158.8px,#f6ea1a 158.8px 161.1px,#f6d016 161.1px 163.4px,#f6ea1a 163.4px 165.8px,#f6ac12 165.8px 168.1px,#f48c0e 168.1px 170.4px,#f6d016 170.4px 172.8px,#f6ea1a 172.8px 175.1px,#f48c0e 175.1px 177.4px,#f6ea1a 177.4px 179.8px,#dcf21e 179.8px 182.1px,#f6d016 182.1px 184.5px,#f48c0e 184.5px 186.8px,#f6ac12 186.8px 189.1px,#f6ea1a 189.1px 191.5px,#8ed024 191.5px 191.6px,#8ed024 191.6px 193.5px,#f6ea1a 193.5px 195.5px,#dcf21e 195.5px 197.8px,#f6d016 197.8px 199.4px,#8ed024 199.4px 201.3px,#c6ea1c 201.3px 203.3px,#8ed024 203.3px 205.6px,#f6ea1a 205.6px 208.0px,#dcf21e 208.0px 210.3px,#f6d016 210.3px 211.8px,#f0621a 211.8px 214.2px,#f6ea1a 214.2px 216.5px,#dcf21e 216.5px 218.9px,#f6ea1a 218.9px 221.2px,#f6d016 221.2px 223.5px,#f6ea1a 223.5px 225.9px,#dcf21e 225.9px 228.2px,#f6ea1a 228.2px 230.5px,#f6d016 230.5px 232.1px,#f6ea1a 232.1px 234.4px,#f6d016 234.4px 236.8px,#2a52dc 236.8px 239.9px,#3c66d4 239.9px 243.0px,#8ed024 243.0px 244.6px,#c6ea1c 244.6px 246.9px,#8ed024 246.9px 249.2px,#c6ea1c 249.2px 251.6px,#f6ea1a 251.6px 253.1px,#3f7a2c 253.1px 255.5px,#c6ea1c 255.5px 257.8px,#f6ea1a 257.8px 260.8px)"></div>
<div class="hc" style="left:382.6px;top:90.4px;width:24.6px;height:260.8px;background:linear-gradient(to bottom,#a4aad8 0.0px 1.2px,#c6ea1c 1.2px 3.0px,#5a7ab8 3.0px 6.6px,#6c9cb4 6.6px 8.2px,#34746a 8.2px 10.5px,#c6ea1c 10.5px 12.1px,#3f7a2c 12.1px 13.9px,#c6ea1c 13.9px 18.3px,#a89a1a 18.3px 20.6px,#c6ea1c 20.6px 22.2px,#8ed024 22.2px 24.2px,#c6ea1c 24.2px 26.1px,#3f7a2c 26.1px 27.6px,#8ed024 27.6px 30.0px,#c6ea1c 30.0px 32.3px,#dcf21e 32.3px 34.6px,#f6d016 34.6px 37.0px,#e63a18 37.0px 40.4px,#f48c0e 40.4px 42.4px,#f0621a 42.4px 48.7px,#f48c0e 48.7px 51.8px,#f6ac12 51.8px 53.3px,#f6ea1a 53.3px 55.7px,#f6d016 55.7px 58.0px,#f6ea1a 58.0px 60.3px,#c6ea1c 60.3px 62.7px,#f6ea1a 62.7px 63.6px,#f6ea1a 63.6px 67.5px,#6a2a30 67.5px 69.5px,#a8561a 69.5px 71.4px,#f6d016 71.4px 73.7px,#c6ea1c 73.7px 76.1px,#6ea232 76.1px 77.6px,#f6ea1a 77.6px 79.2px,#f6ac12 79.2px 81.5px,#f6ea1a 81.5px 87.7px,#f0621a 87.7px 90.1px,#e63a18 90.1px 93.2px,#f48c0e 93.2px 95.5px,#f6ac12 95.5px 97.9px,#f48c0e 97.9px 100.2px,#c6ea1c 100.2px 102.5px,#f6d016 102.5px 104.9px,#f6ea1a 104.9px 107.2px,#dcf21e 107.2px 113.4px,#f0621a 113.4px 115.8px,#f6d016 115.8px 117.3px,#f6ea1a 117.3px 119.7px,#f6ac12 119.7px 122.0px,#f48c0e 122.0px 124.3px,#f6ea1a 124.3px 126.7px,#c6ea1c 126.7px 127.6px,#8ed024 127.6px 129.9px,#f6d016 129.9px 131.5px,#f0621a 131.5px 133.8px,#f6d016 133.8px 136.2px,#f6ea1a 136.2px 140.1px,#f6d016 140.1px 142.4px,#f6ea1a 142.4px 144.7px,#dcf21e 144.7px 147.1px,#8ed024 147.1px 148.6px,#f6d016 148.6px 151.0px,#f6ea1a 151.0px 153.3px,#f6ac12 153.3px 155.6px,#f6ea1a 155.6px 158.0px,#f6ac12 158.0px 160.3px,#f6ea1a 160.3px 162.6px,#f6d016 162.6px 165.0px,#f6ac12 165.0px 167.3px,#f6d016 167.3px 169.7px,#dcf21e 169.7px 174.3px,#c6ea1c 174.3px 176.7px,#f6ea1a 176.7px 179.0px,#dcf21e 179.0px 181.3px,#c6ea1c 181.3px 183.7px,#f6ea1a 183.7px 186.0px,#f6d016 186.0px 188.3px,#f6ea1a 188.3px 190.7px,#34746a 190.7px 191.6px,#34746a 191.6px 193.9px,#c6ea1c 193.9px 196.3px,#f6ea1a 196.3px 198.6px,#3f7a2c 198.6px 200.2px,#8ed024 200.2px 201.7px,#3f7a2c 201.7px 203.3px,#8ed024 203.3px 205.6px,#c6ea1c 205.6px 208.0px,#f6ea1a 208.0px 210.3px,#f6d016 210.3px 211.8px,#f0621a 211.8px 214.2px,#f6d016 214.2px 216.5px,#f6ea1a 216.5px 218.9px,#dcf21e 218.9px 221.2px,#f6d016 221.2px 223.5px,#a89a1a 223.5px 225.9px,#8ed024 225.9px 228.2px,#dcf21e 228.2px 235.2px,#f6ea1a 235.2px 237.6px,#c6ea1c 237.6px 239.9px,#8ed024 239.9px 242.2px,#dcf21e 242.2px 244.6px,#f6ea1a 244.6px 246.9px,#f6d016 246.9px 249.2px,#f6ea1a 249.2px 251.6px,#c6ea1c 251.6px 253.9px,#8ed024 253.9px 256.2px,#f6ea1a 256.2px 258.6px,#f6d016 258.6px 260.8px)"></div>
<div class="hc" style="left:409.8px;top:90.4px;width:24.6px;height:260.8px;background:linear-gradient(to bottom,#a4aad8 0.0px 1.5px,#5a7ab8 1.5px 3.0px,#3c66d4 3.0px 6.6px,#6c9cb4 6.6px 8.2px,#34746a 8.2px 10.5px,#c6ea1c 10.5px 12.8px,#a89a1a 12.8px 14.4px,#f6ea1a 14.4px 16.7px,#dcf21e 16.7px 25.3px,#c6ea1c 25.3px 26.9px,#1f4272 26.9px 29.2px,#c6ea1c 29.2px 31.5px,#8ed024 31.5px 33.9px,#f6d016 33.9px 36.2px,#f6ac12 36.2px 38.5px,#3f7a2c 38.5px 40.4px,#c6ea1c 40.4px 43.2px,#f6d016 43.2px 45.6px,#f6ea1a 45.6px 47.9px,#f6d016 47.9px 50.2px,#f6ea1a 50.2px 53.3px,#f6d016 53.3px 55.7px,#dcf21e 55.7px 60.3px,#c6ea1c 60.3px 63.6px,#c6ea1c 63.6px 67.5px,#a8561a 67.5px 68.8px,#a89a1a 68.8px 71.4px,#f6d016 71.4px 73.7px,#f6ea1a 73.7px 76.1px,#f6d016 76.1px 78.4px,#f6ea1a 78.4px 83.1px,#f6ac12 83.1px 85.4px,#f48c0e 85.4px 87.7px,#e63a18 87.7px 92.4px,#f48c0e 92.4px 94.8px,#f6ea1a 94.8px 97.1px,#f6d016 97.1px 99.4px,#f6ea1a 99.4px 101.8px,#f6ac12 101.8px 104.1px,#f48c0e 104.1px 106.4px,#f6ea1a 106.4px 108.8px,#f6d016 108.8px 111.1px,#f48c0e 111.1px 113.4px,#f6ac12 113.4px 115.8px,#f6ea1a 115.8px 118.1px,#f6d016 118.1px 120.5px,#f48c0e 120.5px 122.8px,#f6ea1a 122.8px 125.1px,#f6d016 125.1px 127.4px,#f6ea1a 127.4px 127.6px,#f6ea1a 127.6px 130.7px,#f0621a 130.7px 133.1px,#f6ea1a 133.1px 135.4px,#dcf21e 135.4px 137.7px,#f6ea1a 137.7px 140.1px,#f6d016 140.1px 142.4px,#f6ac12 142.4px 144.7px,#f6ea1a 144.7px 147.1px,#f6d016 147.1px 149.4px,#f6ea1a 149.4px 151.7px,#f6d016 151.7px 154.1px,#f48c0e 154.1px 156.4px,#f6ac12 156.4px 158.8px,#f6ea1a 158.8px 163.4px,#dcf21e 163.4px 165.8px,#f6ea1a 165.8px 168.1px,#f6d016 168.1px 172.8px,#f6ea1a 172.8px 175.1px,#f6d016 175.1px 177.4px,#f48c0e 177.4px 179.8px,#f6ea1a 179.8px 182.1px,#f6d016 182.1px 184.5px,#f48c0e 184.5px 186.8px,#f6d016 186.8px 189.1px,#f6ea1a 189.1px 191.5px,#dcf21e 191.5px 191.6px,#c6ea1c 191.6px 193.9px,#f6ea1a 193.9px 197.1px,#a89a1a 197.1px 198.6px,#f6ac12 198.6px 200.9px,#f48c0e 200.9px 204.1px,#f6d016 204.1px 206.4px,#f6ea1a 206.4px 208.7px,#f6ac12 208.7px 210.3px,#f48c0e 210.3px 212.6px,#f6ea1a 212.6px 215.0px,#dcf21e 215.0px 218.9px,#f6ea1a 218.9px 221.2px,#f6d016 221.2px 223.5px,#a89a1a 223.5px 225.1px,#c6ea1c 225.1px 227.4px,#8ed024 227.4px 229.8px,#c6ea1c 229.8px 232.1px,#f6ea1a 232.1px 236.0px,#34746a 236.0px 238.3px,#c6ea1c 238.3px 240.7px,#3f7a2c 240.7px 243.0px,#8ed024 243.0px 245.3px,#c6ea1c 245.3px 249.2px,#dcf21e 249.2px 251.6px,#8ed024 251.6px 253.9px,#f6ea1a 253.9px 256.2px,#f6d016 256.2px 258.6px,#f6ea1a 258.6px 260.8px)"></div>
<div class="hc" style="left:436.9px;top:90.4px;width:24.6px;height:260.8px;background:linear-gradient(to bottom,#f6ac12 0.0px 2.0px,#f6d016 2.0px 4.1px,#f48c0e 4.1px 6.2px,#f6d016 6.2px 8.3px,#f48c0e 8.3px 9.6px,#a8561a 9.6px 10.6px,#a89a1a 10.6px 11.6px,#c6ea1c 11.6px 13.6px,#f6ac12 13.6px 16.6px,#f48c0e 16.6px 20.0px,#f6d016 20.0px 22.1px,#f6ac12 22.1px 24.2px,#f6d016 24.2px 26.3px,#c6ea1c 26.3px 29.6px,#f6d016 29.6px 33.6px,#f6ea1a 33.6px 35.8px,#f48c0e 35.8px 39.0px,#f6d016 39.0px 41.6px,#f6ea1a 41.6px 44.0px,#f6ac12 44.0px 46.3px,#f6d016 46.3px 48.7px,#f6ea1a 48.7px 51.0px,#f6d016 51.0px 53.3px,#f6ac12 53.3px 55.7px,#f6d016 55.7px 58.0px,#f6ea1a 58.0px 60.3px,#f48c0e 60.3px 62.7px,#f6ac12 62.7px 63.6px,#f6ac12 63.6px 65.2px,#f6ea1a 65.2px 67.5px,#6ea232 67.5px 69.8px,#a89a1a 69.8px 72.2px,#c6ea1c 72.2px 75.8px,#1f4272 75.8px 77.4px,#c6ea1c 77.4px 78.1px,#dcf21e 78.1px 91.6px,#f6ea1a 91.6px 98.6px,#c6ea1c 98.6px 101.0px,#6ea232 101.0px 102.9px,#c6ea1c 102.9px 107.2px,#dcf21e 107.2px 109.6px,#c6ea1c 109.6px 111.9px,#dcf21e 111.9px 114.2px,#f6ea1a 114.2px 116.6px,#8ed024 116.6px 118.9px,#c6ea1c 118.9px 121.2px,#dcf21e 121.2px 123.6px,#f6ea1a 123.6px 125.9px,#8ed024 125.9px 127.5px,#c6ea1c 127.5px 127.6px,#c6ea1c 127.6px 129.9px,#f6d016 129.9px 132.3px,#dcf21e 132.3px 134.6px,#f6ea1a 134.6px 136.9px,#dcf21e 136.9px 139.3px,#f6d016 139.3px 141.6px,#dcf21e 141.6px 144.0px,#f6ea1a 144.0px 146.3px,#8ed024 146.3px 148.6px,#c6ea1c 148.6px 151.0px,#dcf21e 151.0px 153.3px,#f6ea1a 153.3px 155.6px,#dcf21e 155.6px 158.0px,#f6ea1a 158.0px 160.3px,#c6ea1c 160.3px 162.6px,#f6d016 162.6px 165.0px,#f6ea1a 165.0px 167.3px,#c6ea1c 167.3px 169.7px,#f6d016 169.7px 172.0px,#f6ea1a 172.0px 174.3px,#dcf21e 174.3px 176.7px,#f6d016 176.7px 179.0px,#c6ea1c 179.0px 181.3px,#8ed024 181.3px 183.7px,#f6d016 183.7px 185.2px,#f0621a 185.2px 187.6px,#f6d016 187.6px 189.9px,#c6ea1c 189.9px 191.6px,#f6d016 191.6px 193.9px,#f6ea1a 193.9px 196.3px,#f6d016 196.3px 198.6px,#dcf21e 198.6px 200.9px,#f6ea1a 200.9px 203.3px,#dcf21e 203.3px 205.6px,#c6ea1c 205.6px 208.0px,#f6ea1a 208.0px 210.3px,#f6d016 210.3px 212.6px,#f6ea1a 212.6px 217.3px,#f6d016 217.3px 219.6px,#f48c0e 219.6px 221.2px,#f0621a 221.2px 224.3px,#f48c0e 224.3px 225.9px,#f6d016 225.9px 228.2px,#f6ea1a 228.2px 230.5px,#f6ac12 230.5px 232.9px,#f48c0e 232.9px 235.2px,#f6ea1a 235.2px 243.0px,#f6ea1a 243.0px 245.3px,#dcf21e 245.3px 247.7px,#f6ea1a 247.7px 250.0px,#f6d016 250.0px 252.3px,#dcf21e 252.3px 254.7px,#f6ea1a 254.7px 257.0px,#f6d016 257.0px 260.8px)"></div>
<div class="hc" style="left:464.0px;top:90.4px;width:24.6px;height:260.8px;background:linear-gradient(to bottom,#c6ea1c 0.0px 1.0px,#f6d016 1.0px 3.0px,#f6ea1a 3.0px 5.7px,#f6d016 5.7px 7.8px,#a89a1a 7.8px 9.8px,#f6ea1a 9.8px 11.8px,#a8561a 11.8px 13.9px,#f6d016 13.9px 15.7px,#c6ea1c 15.7px 18.0px,#f6d016 18.0px 20.0px,#f48c0e 20.0px 22.0px,#f6d016 22.0px 24.1px,#3f7a2c 24.1px 25.5px,#c6ea1c 25.5px 27.5px,#f6ea1a 27.5px 30.2px,#f6d016 30.2px 32.9px,#c6ea1c 32.9px 35.0px,#f6d016 35.0px 36.3px,#a89a1a 36.3px 38.4px,#a8561a 38.4px 40.4px,#f6d016 40.4px 43.1px,#f48c0e 43.1px 45.9px,#f6d016 45.9px 47.9px,#f48c0e 47.9px 49.9px,#f6d016 49.9px 52.0px,#f6ac12 52.0px 56.1px,#f6d016 56.1px 58.1px,#c6ea1c 58.1px 60.1px,#f6d016 60.1px 62.2px,#f6ea1a 62.2px 63.6px,#f6d016 63.6px 65.6px,#f6ea1a 65.6px 67.7px,#a89a1a 67.7px 69.7px,#6ea232 69.7px 71.8px,#a89a1a 71.8px 73.8px,#f6ea1a 73.8px 75.8px,#3f7a2c 75.8px 77.2px,#f6ea1a 77.2px 79.2px,#dcf21e 79.2px 82.6px,#6ea232 82.6px 84.7px,#c6ea1c 84.7px 86.7px,#f6ea1a 86.7px 89.5px,#dcf21e 89.5px 93.5px,#f6ea1a 93.5px 95.6px,#6ea232 95.6px 97.6px,#f6ea1a 97.6px 99.7px,#c6ea1c 99.7px 101.0px,#3f7a2c 101.0px 103.7px,#c6ea1c 103.7px 105.8px,#dcf21e 105.8px 107.8px,#8ed024 107.8px 109.9px,#c6ea1c 109.9px 111.9px,#f6ea1a 111.9px 113.9px,#dcf21e 113.9px 116.0px,#a89a1a 116.0px 118.0px,#f6ea1a 118.0px 120.1px,#c6ea1c 120.1px 122.1px,#f6ea1a 122.1px 124.1px,#c6ea1c 124.1px 126.2px,#8ed024 126.2px 127.6px,#8ed024 127.6px 129.6px,#f6ea1a 129.6px 131.7px,#a8561a 131.7px 133.7px,#f6ea1a 133.7px 135.8px,#c6ea1c 135.8px 139.6px,#dcf21e 139.6px 143.6px,#c6ea1c 143.6px 147.3px,#3f7a2c 147.3px 149.4px,#f6ea1a 149.4px 151.4px,#f6d016 151.4px 153.5px,#f6ea1a 153.5px 155.5px,#f6d016 155.5px 156.9px,#f6ac12 156.9px 160.9px,#f6ea1a 160.9px 163.0px,#c6ea1c 163.0px 165.6px,#dcf21e 165.6px 168.4px,#c6ea1c 168.4px 170.5px,#3f7a2c 170.5px 171.8px,#c6ea1c 171.8px 174.5px,#8ed024 174.5px 176.6px,#c6ea1c 176.6px 180.0px,#8ed024 180.0px 182.0px,#c6ea1c 182.0px 184.7px,#f6d016 184.7px 186.8px,#f6ea1a 186.8px 188.8px,#f6ac12 188.8px 190.9px,#f6ea1a 190.9px 191.6px,#8ed024 191.6px 193.8px,#c6ea1c 193.8px 196.8px,#f6ea1a 196.8px 199.0px,#8ed024 199.0px 201.2px,#c6ea1c 201.2px 204.2px,#f6ea1a 204.2px 206.4px,#c6ea1c 206.4px 208.7px,#f6d016 208.7px 210.9px,#f0621a 210.9px 213.1px,#f6d016 213.1px 216.1px,#f6ea1a 216.1px 221.3px,#f0621a 221.3px 224.2px,#f6d016 224.2px 227.2px,#f6ea1a 227.2px 230.2px,#f6ac12 230.2px 231.7px,#f48c0e 231.7px 234.6px,#f6ea1a 234.6px 245.0px,#dcf21e 245.0px 248.0px,#f6ea1a 248.0px 250.9px,#f6d016 250.9px 253.2px,#8ed024 253.2px 255.4px,#c6ea1c 255.4px 260.8px)"></div>
<div class="hc" style="left:491.2px;top:90.4px;width:24.6px;height:260.8px;background:linear-gradient(to bottom,#dcf21e 0.0px 1.6px,#c6ea1c 1.6px 5.0px,#dcf21e 5.0px 7.1px,#f6d016 7.1px 9.8px,#f6ea1a 9.8px 11.8px,#a8561a 11.8px 13.9px,#f6d016 13.9px 18.6px,#f6ea1a 18.6px 21.4px,#f6d016 21.4px 23.4px,#8ed024 23.4px 24.8px,#c6ea1c 24.8px 27.5px,#f6ea1a 27.5px 29.5px,#f6d016 29.5px 31.6px,#f48c0e 31.6px 33.6px,#f6d016 33.6px 35.6px,#f48c0e 35.6px 37.7px,#f0621a 37.7px 40.4px,#f48c0e 40.4px 42.5px,#f0621a 42.5px 45.2px,#f6ac12 45.2px 47.2px,#f0621a 47.2px 49.9px,#f48c0e 49.9px 52.7px,#f6ac12 52.7px 55.4px,#f48c0e 55.4px 57.4px,#f6d016 57.4px 59.5px,#c6ea1c 59.5px 62.2px,#dcf21e 62.2px 63.6px,#c6ea1c 63.6px 65.6px,#8ed024 65.6px 67.7px,#6c9cb4 67.7px 69.7px,#a89a1a 69.7px 71.8px,#6c9cb4 71.8px 73.8px,#a89a1a 73.8px 75.2px,#1f4272 75.2px 77.2px,#c6ea1c 77.2px 79.2px,#f6ea1a 79.2px 81.3px,#8ed024 81.3px 83.3px,#c6ea1c 83.3px 85.4px,#8ed024 85.4px 87.4px,#c6ea1c 87.4px 89.5px,#dcf21e 89.5px 94.9px,#8ed024 94.9px 96.9px,#c6ea1c 96.9px 100.3px,#a89a1a 100.3px 102.4px,#f6d016 102.4px 104.4px,#f48c0e 104.4px 106.5px,#f6ea1a 106.5px 108.5px,#f6ac12 108.5px 110.5px,#f0621a 110.5px 116.0px,#f48c0e 116.0px 118.0px,#f6ea1a 118.0px 120.1px,#f6d016 120.1px 122.1px,#f6ea1a 122.1px 124.1px,#f6d016 124.1px 126.2px,#c6ea1c 126.2px 127.6px,#f6d016 127.6px 129.6px,#f6ea1a 129.6px 131.7px,#f0621a 131.7px 134.4px,#f6d016 134.4px 136.4px,#f6ea1a 136.4px 138.5px,#f48c0e 138.5px 140.6px,#f6ac12 140.6px 143.2px,#f48c0e 143.2px 145.3px,#f6ea1a 145.3px 147.3px,#dcf21e 147.3px 149.4px,#f48c0e 149.4px 151.4px,#f0621a 151.4px 154.8px,#f48c0e 154.8px 156.9px,#f6d016 156.9px 158.9px,#f6ea1a 158.9px 160.9px,#c6ea1c 160.9px 167.1px,#8ed024 167.1px 169.1px,#c6ea1c 169.1px 171.1px,#8ed024 171.1px 173.2px,#c6ea1c 173.2px 182.0px,#f6ea1a 182.0px 184.1px,#3f7a2c 184.1px 185.6px,#f6d016 185.6px 187.5px,#f6ea1a 187.5px 189.5px,#8ed024 189.5px 191.5px,#f6d016 191.5px 191.6px,#f6ea1a 191.6px 193.4px,#f6d016 193.4px 195.3px,#f6ea1a 195.3px 198.3px,#3f7a2c 198.3px 200.5px,#f6ea1a 200.5px 202.7px,#a89a1a 202.7px 205.0px,#f6d016 205.0px 207.2px,#f6ea1a 207.2px 210.9px,#f0621a 210.9px 213.1px,#f6d016 213.1px 215.3px,#f6ea1a 215.3px 218.3px,#f6d016 218.3px 220.5px,#e63a18 220.5px 222.8px,#f48c0e 222.8px 225.0px,#f6d016 225.0px 227.2px,#f48c0e 227.2px 229.4px,#f6ea1a 229.4px 231.7px,#f6d016 231.7px 234.6px,#f6ea1a 234.6px 236.1px,#2a52dc 236.1px 245.0px,#8ed024 245.0px 247.2px,#c6ea1c 247.2px 253.9px,#8ed024 253.9px 256.1px,#c6ea1c 256.1px 258.4px,#8ed024 258.4px 260.8px)"></div>
<div class="br" style="left:53.1px;top:345px;width:105.4px;height:6.2px"></div>
<div class="br" style="left:461.5px;top:345.6px;width:51.4px;height:6.3px"></div>
<svg width="520" height="485" style="position:absolute;left:0;top:0"><text x="248.4" y="222.7" transform="rotate(-90 248.4 222.7)" text-anchor="middle" class="tb" style="font-size:13.3px">Expression level</text><text x="18.2" y="361" transform="rotate(-90 18.2 361)" text-anchor="end" class="tn">HSC</text><text x="43.8" y="360.5" transform="rotate(-90 43.8 360.5)" text-anchor="end" class="tn">CMP</text><text x="70" y="361.5" transform="rotate(-90 70 361.5)" text-anchor="end" class="tn">CLP</text><text x="97.3" y="362.3" transform="rotate(-90 97.3 362.3)" text-anchor="end" class="tn">ProB</text><text x="125" y="364" transform="rotate(-90 125 364)" text-anchor="end" class="tn">LymphoB</text><text x="152.8" y="360" transform="rotate(-90 152.8 360)" text-anchor="end" class="tb tb13">Lin<tspan class="sp" dy="-4">-</tspan><tspan dy="4">Sca</tspan><tspan class="sp" dy="-4">hi</tspan><tspan dy="4">c-kit</tspan><tspan class="sp" dy="-4">-</tspan><tspan dy="4"> Tg D1</tspan></text><text x="180.2" y="362" transform="rotate(-90 180.2 362)" text-anchor="end" class="tn">CD41+ c-Kit+</text><text x="206.5" y="362.5" transform="rotate(-90 206.5 362.5)" text-anchor="end" class="tn">CD41+ c-Kit-</text><text x="320.3" y="360.3" transform="rotate(-90 320.3 360.3)" text-anchor="end" class="tn">HSC</text><text x="346" y="360" transform="rotate(-90 346 360)" text-anchor="end" class="tn">CMP</text><text x="371.3" y="360.6" transform="rotate(-90 371.3 360.6)" text-anchor="end" class="tn">CLP</text><text x="398.2" y="361.3" transform="rotate(-90 398.2 361.3)" text-anchor="end" class="tn">ProB</text><text x="427.8" y="363.6" transform="rotate(-90 427.8 363.6)" text-anchor="end" class="tn">LymphoB</text><text x="454.3" y="363.6" transform="rotate(-90 454.3 363.6)" text-anchor="end" class="tn">CD41+ c-Kit+</text><text x="480.6" y="362.6" transform="rotate(-90 480.6 362.6)" text-anchor="end" class="tn tn115">CD41+ c-Kit-</text><text x="510.3" y="360.5" transform="rotate(-90 510.3 360.5)" text-anchor="end" class="tb">CD41+ c-Kit- Tg D3</text></svg>
<div class="cb"></div>
<div class="ct" style="left:251px;top:99.2px">high</div>
<div class="ct" style="left:253px;top:335px">low</div>
</body></html>
